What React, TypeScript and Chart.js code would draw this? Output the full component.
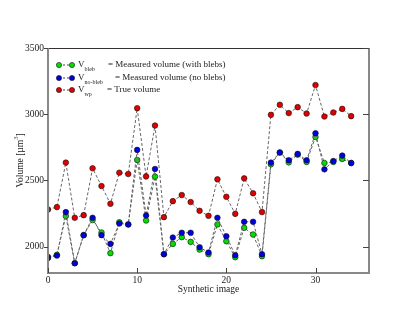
import React, { useEffect, useRef } from "react";
import { Chart, registerables } from "chart.js";

Chart.register(...registerables);

const images = [0, 1, 2, 3, 4, 5, 6, 7, 8, 9, 10, 11, 12, 13, 14, 15, 16, 17, 18, 19, 20, 21, 22, 23, 24, 25, 26, 27, 28, 29, 30, 31, 32, 33, 34];

const vBleb = [1922, 1937, 2230, 1874, 2086, 2200, 2106, 1950, 2184, 2167, 2654, 2197, 2528, 1942, 2020, 2071, 2035, 1977, 1942, 2167, 2040, 1919, 2141, 2091, 1927, 2621, 2710, 2636, 2694, 2639, 2828, 2631, 2639, 2662, 2631];
const vNoBleb = [1914, 1932, 2260, 1874, 2086, 2217, 2086, 2020, 2174, 2167, 2730, 2235, 2586, 1942, 2068, 2104, 2104, 1995, 1955, 2217, 2078, 1934, 2187, 2187, 1942, 2634, 2710, 2652, 2700, 2652, 2856, 2583, 2646, 2687, 2631];
const vWp = [2280, 2298, 2634, 2217, 2237, 2591, 2457, 2323, 2558, 2548, 3045, 2530, 2914, 2222, 2343, 2389, 2336, 2270, 2232, 2508, 2376, 2247, 2515, 2402, 2260, 2995, 3071, 3008, 3053, 3005, 3220, 2982, 3013, 3040, 2985];

const xTicks = [0, 10, 20, 30];
const yTicks = [2000, 2500, 3000, 3500];

const legendItems = [
  { color: "#00e000", sub: "bleb", text: "= Measured volume (with blebs)" },
  { color: "#0000e0", sub: "no-bleb", text: "= Measured volume (no blebs)" },
  { color: "#e00000", sub: "wp", text: "= True volume" },
];

const FONT = "'Liberation Serif', 'DejaVu Serif', serif";

const framePlugin = {
  id: "frame",
  afterDraw(chart: any) {
    const ctx = chart.ctx as CanvasRenderingContext2D;
    const { left, right, top, bottom } = chart.chartArea;
    const xs = chart.scales.x;
    const ys = chart.scales.y;
    ctx.save();
    // frame
    ctx.strokeStyle = "#333";
    ctx.lineWidth = 1;
    ctx.beginPath();
    ctx.moveTo(left, top + 0.5);
    ctx.lineTo(right, top + 0.5);
    ctx.stroke();
    ctx.strokeStyle = "#888";
    ctx.lineWidth = 2;
    ctx.beginPath();
    ctx.moveTo(left, top);
    ctx.lineTo(left, bottom);
    ctx.lineTo(right, bottom);
    ctx.lineTo(right, top);
    ctx.stroke();
    // ticks
    ctx.strokeStyle = "#444";
    ctx.lineWidth = 1;
    ctx.beginPath();
    for (const v of yTicks) {
      const y = Math.round(ys.getPixelForValue(v)) + 0.5;
      ctx.moveTo(left - 4, y);
      ctx.lineTo(left, y);
      ctx.moveTo(right, y);
      ctx.lineTo(right - 6, y);
    }
    for (const v of xTicks) {
      const x = Math.round(xs.getPixelForValue(v)) + 0.5;
      ctx.moveTo(x, bottom);
      ctx.lineTo(x, bottom - 5);
    }
    ctx.stroke();

    // axis titles
    ctx.fillStyle = "#222";
    ctx.font = `9.5px ${FONT}`;
    ctx.textAlign = "center";
    ctx.textBaseline = "middle";
    ctx.fillText("Synthetic image", (left + right) / 2, 289);
    ctx.save();
    ctx.translate(20, (top + bottom) / 2);
    ctx.rotate(-Math.PI / 2);
    ctx.textAlign = "left";
    const main = "Volume [µm";
    ctx.font = `9.5px ${FONT}`;
    const w1 = ctx.measureText(main).width;
    const w2 = ctx.measureText("]").width;
    ctx.font = `6.5px ${FONT}`;
    const w3 = ctx.measureText("3").width;
    const total = w1 + w3 + w2;
    const x0 = -total / 2;
    ctx.font = `9.5px ${FONT}`;
    ctx.fillText(main, x0, 0);
    ctx.font = `6.5px ${FONT}`;
    ctx.fillText("3", x0 + w1, -4);
    ctx.font = `9.5px ${FONT}`;
    ctx.fillText("]", x0 + w1 + w3, 0);
    ctx.restore();

    // legend
    const rows = [65, 78, 90];
    legendItems.forEach((it, i) => {
      const y = rows[i];
      ctx.strokeStyle = "#444";
      ctx.lineWidth = 1;
      ctx.setLineDash([2, 2]);
      ctx.beginPath();
      ctx.moveTo(59, y);
      ctx.lineTo(72, y);
      ctx.stroke();
      ctx.setLineDash([]);
      for (const px of [59, 72]) {
        ctx.beginPath();
        ctx.arc(px, y, 2.6, 0, Math.PI * 2);
        ctx.fillStyle = it.color;
        ctx.fill();
        ctx.strokeStyle = "#111";
        ctx.lineWidth = 0.6;
        ctx.stroke();
      }
      ctx.fillStyle = "#222";
      ctx.textAlign = "left";
      ctx.textBaseline = "middle";
      ctx.font = `9px ${FONT}`;
      ctx.fillText("V", 78, y);
      const vw = ctx.measureText("V").width;
      ctx.font = `6px ${FONT}`;
      ctx.fillText(it.sub, 78 + vw, y + 4);
      ctx.font = `9px ${FONT}`;
      ctx.fillText(it.text, i === 1 ? 115 : i === 0 ? 108 : 107, y);
    });
    ctx.restore();
  },
};

function mk(label: string, values: number[], color: string, order: number) {
  return {
    label,
    data: images.map((x, i) => ({ x, y: values[i] })),
    borderColor: "#666",
    borderWidth: 1,
    borderDash: [3, 2],
    backgroundColor: color,
    pointBackgroundColor: color,
    pointBorderColor: "#111",
    pointBorderWidth: 0.6,
    pointRadius: 2.8,
    tension: 0,
    order,
  };
}

export default function App() {
  const ref = useRef<HTMLCanvasElement>(null);
  useEffect(() => {
    document.body.style.margin = "0";
    const chart = new Chart(ref.current!, {
      type: "line",
      data: {
        datasets: [
          mk("V_bleb", vBleb, "#00e000", 2),
          mk("V_no-bleb", vNoBleb, "#0000e0", 1),
          mk("V_wp", vWp, "#e00000", 0),
        ],
      },
      options: {
        animation: false,
        responsive: false,
        maintainAspectRatio: false,
        layout: { padding: { left: 0, top: 48, right: 46, bottom: 0 } },
        plugins: { legend: { display: false }, tooltip: { enabled: false } },
        scales: {
          x: {
            type: "linear",
            min: 0,
            max: 36,
            grid: { display: false, drawTicks: false },
            border: { display: false },
            afterBuildTicks: (s: any) => {
              s.ticks = xTicks.map((v) => ({ value: v }));
            },
            afterFit: (s: any) => {
              s.height = 48;
            },
            ticks: {
              padding: 2,
              color: "#222",
              font: { family: FONT, size: 9.5 },
              maxRotation: 0,
              callback: (v: any) => String(v),
            },
          },
          y: {
            min: 1800,
            max: 3500,
            grid: { display: false, drawTicks: false },
            border: { display: false },
            afterBuildTicks: (s: any) => {
              s.ticks = yTicks.map((v) => ({ value: v }));
            },
            afterFit: (s: any) => {
              s.width = 48;
            },
            ticks: {
              padding: 4,
              color: "#222",
              font: { family: FONT, size: 9.5 },
              callback: (v: any) => String(v),
            },
          },
        },
      },
      plugins: [framePlugin],
    });
    return () => chart.destroy();
  }, []);
  return <canvas ref={ref} width={415} height={321} style={{ display: "block" }} />;
}
